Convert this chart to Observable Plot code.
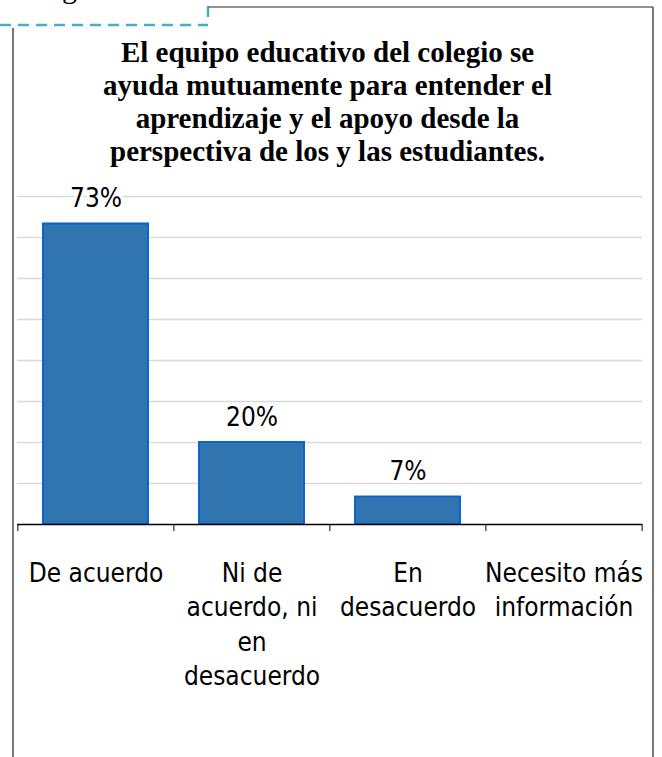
<!DOCTYPE html>
<html>
<head>
<meta charset="utf-8">
<script src="https://cdn.jsdelivr.net/npm/d3@7"></script>
<script src="https://cdn.jsdelivr.net/npm/@observablehq/plot@0.6"></script>
<style>
  html, body { margin: 0; padding: 0; background: #fff; }
  #wrap { position: relative; width: 662px; height: 757px; overflow: hidden; background: #fff; }
  #frag { position: absolute; left: 62px; top: -27px; font-family: "Liberation Serif", serif; font-size: 30px; line-height: 30px; color: #000; }
  #title { position: absolute; left: 0; top: 36px; width: 655px; text-align: center; font-family: "Liberation Serif", "Times New Roman", serif; font-weight: bold; font-size: 29px; line-height: 33px; color: #000; }
  #deco { position: absolute; left: 0; top: 0; }
  #chart { position: absolute; left: 0; top: 0; }
</style>
</head>
<body>
<div id="wrap">
  <div id="frag">g</div>
  <svg id="deco" width="662" height="757">
    <line x1="0" y1="25" x2="208" y2="25" stroke="#4bacc6" stroke-width="2.5" stroke-dasharray="11,7"></line>
    <line x1="208" y1="6" x2="208" y2="17" stroke="#4bacc6" stroke-width="2.5"></line>
    <line x1="208" y1="7" x2="653" y2="7" stroke="#6f6f6f" stroke-width="1.5"></line>
    <line x1="653" y1="7" x2="653" y2="757" stroke="#4a4a4a" stroke-width="1.5"></line>
    <line x1="13" y1="28" x2="13" y2="757" stroke="#4a4a4a" stroke-width="1.5"></line>
  </svg>
  <div id="chart"></div>
  <div id="title">El equipo educativo del colegio se<br>ayuda mutuamente para entender el<br>aprendizaje y el apoyo desde la<br>perspectiva de los y las estudiantes.</div>
</div>
<script>
const categories = ["De acuerdo", "Ni de acuerdo, ni en desacuerdo", "En desacuerdo", "Necesito más información"];
const tickLabels = ["De acuerdo", "Ni de\nacuerdo, ni\nen\ndesacuerdo", "En\ndesacuerdo", "Necesito más\ninformación"];
const values = [73.3, 20, 6.7, 0];
const valueLabels = ["73%", "20%", "7%", ""];
const yTicks = [10, 20, 30, 40, 50, 60, 70, 80];

const data = categories.map((c, i) => ({category: c, value: values[i], label: valueLabels[i]}));

const W = 662, H = 757, ML = 17, MR = 20, MT = 196, MB = 233;
const PI = 0.328, PO = 0.164;
const step = (W - ML - MR) / (categories.length - PI + 2 * PO);
const font = '"DejaVu Sans Condensed", "DejaVu Sans", sans-serif';

const chart = Plot.plot({
  width: W,
  height: H,
  marginLeft: ML,
  marginRight: MR,
  marginTop: MT,
  marginBottom: MB,
  style: {fontFamily: font, background: "transparent", fontStretch: "condensed"},
  x: {domain: categories, paddingInner: PI, paddingOuter: PO, axis: null, label: null},
  y: {domain: [0, 80], axis: null, label: null},
  marks: [
    Plot.ruleY(yTicks, {stroke: "#d9d9d9", strokeWidth: 1.5}),
    Plot.barY(data, {x: "category", y: "value", fill: "#3175b0", stroke: "#0b65cc", strokeWidth: 2}),
    Plot.ruleY([0], {stroke: "#000", strokeWidth: 1.3}),
    Plot.ruleX(categories, {x: d => d, y1: 0, y2: 0, dx: -step / 2, insetBottom: -7, stroke: "#000", strokeWidth: 1}),
    Plot.ruleX(categories.slice(-1), {x: d => d, y1: 0, y2: 0, dx: step / 2, insetBottom: -7, stroke: "#000", strokeWidth: 1}),
    Plot.text(data.filter(d => d.label), {x: "category", y: "value", text: "label", dy: -17, lineAnchor: "bottom", fontSize: 26, fill: "#000", stroke: "#fff", strokeWidth: 6, paintOrder: "stroke"}),
    Plot.axisX({tickSize: 0, tickPadding: 33, fontSize: 26, lineHeight: 1.32, fill: "#000", label: null, tickFormat: d => tickLabels[categories.indexOf(d)]})
  ]
});
document.getElementById("chart").appendChild(chart);
</script>
</body>
</html>
